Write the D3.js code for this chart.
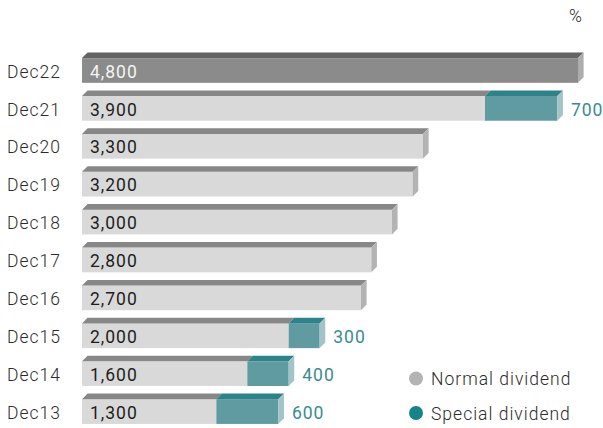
<!DOCTYPE html>
<html>
<head>
<meta charset="utf-8">
<script src="https://cdn.jsdelivr.net/npm/d3@7/dist/d3.min.js"></script>
<style>
  html, body { margin: 0; padding: 0; background: #fff; }
  svg text { font-family: Roboto, "Noto Sans", sans-serif; letter-spacing: 1px; }
</style>
</head>
<body>
<svg id="chart" width="603" height="428"></svg>
<script>
// Dividend per share by year
const categories = ["Dec22", "Dec21", "Dec20", "Dec19", "Dec18", "Dec17", "Dec16", "Dec15", "Dec14", "Dec13"];
const normalDividend = [4800, 3900, 3300, 3200, 3000, 2800, 2700, 2000, 1600, 1300];
const specialDividend = [0, 700, 0, 0, 0, 0, 0, 300, 400, 600];
const legendLabels = ["Normal dividend", "Special dividend"];
const unitLabel = "%";

const svg = d3.select("#chart");
const fmt = d3.format(",");

const x = d3.scaleLinear().domain([0, 4800]).range([82, 578]);
const y = d3.scaleBand().domain(categories)
  .range([52.5, 52.5 + 10 * 37.9])
  .paddingInner(0.2).paddingOuter(0.1).align(0);

const depth = 5.6;   // 3D extrusion offset
const band = y.bandwidth();
const frontH = band - depth;
const fs = 17.5;

const palette = {
  normal:  { front: "#d9d9d9", top: "#878787", side: "#b3b3b3" },
  latest:  { front: "#8b8b8b", top: "#636363", side: "#adadad" },
  special: { front: "#5f9ba1", top: "#2c8389", side: "#a4c3c6" }
};

const rows = categories.map((c, i) => ({
  cat: c, normal: normalDividend[i], special: specialDividend[i], latest: i === 0
}));

const g = svg.append("g");

rows.forEach(r => {
  const yt = y(r.cat);
  const yf = yt + depth;
  const segs = [{ from: 0, to: r.normal, col: r.latest ? palette.latest : palette.normal }];
  if (r.special > 0) segs.push({ from: r.normal, to: r.normal + r.special, col: palette.special });
  const row = g.append("g");
  segs.forEach((s, k) => {
    const x0 = x(s.from), x1 = x(s.to);
    row.append("rect").attr("x", x0).attr("y", yf).attr("width", x1 - x0).attr("height", frontH)
      .attr("fill", s.col.front);
    row.append("polygon")
      .attr("points", [[x0, yf], [x0 + depth, yt], [x1 + depth, yt], [x1, yf]].map(p => p.join(",")).join(" "))
      .attr("fill", s.col.top);
    if (k === segs.length - 1) {
      row.append("polygon")
        .attr("points", [[x1, yf], [x1 + depth, yt], [x1 + depth, yt + frontH], [x1, yf + frontH]]
          .map(p => p.join(",")).join(" "))
        .attr("fill", s.col.side);
    }
  });
  // value inside the bar
  row.append("text").attr("x", x(0) + 8).attr("y", yf + 19.5)
    .attr("font-size", fs).attr("fill", r.latest ? "#f4f4f4" : "#1e1e1e")
    .text(fmt(r.normal));
  // special dividend label to the right
  if (r.special > 0) {
    row.append("text").attr("x", x(r.normal + r.special) + depth + 8).attr("y", yf + 19.5)
      .attr("font-size", fs).attr("fill", "#3a8b91")
      .text(fmt(r.special));
  }
  // category label
  row.append("text").attr("x", 7).attr("y", yf + 19.5)
    .attr("font-size", fs).attr("fill", "#2b2b2b").attr("font-weight", 300)
    .text(r.cat);
});

// unit
svg.append("text").attr("x", 569).attr("y", 22).attr("font-size", fs)
  .attr("fill", "#2b2b2b").attr("font-weight", 300).text(unitLabel);

// legend
const legendColors = ["#b3b3b3", "#16848b"];
const lg = svg.append("g");
legendLabels.forEach((t, i) => {
  const cy = 378.5 + i * 34.5;
  lg.append("circle").attr("cx", 416).attr("cy", cy).attr("r", 7).attr("fill", legendColors[i]);
  lg.append("text").attr("x", 431).attr("y", cy + 6.5).attr("font-size", fs)
    .attr("fill", "#2b2b2b").attr("font-weight", 300).text(t);
});
</script>
</body>
</html>
